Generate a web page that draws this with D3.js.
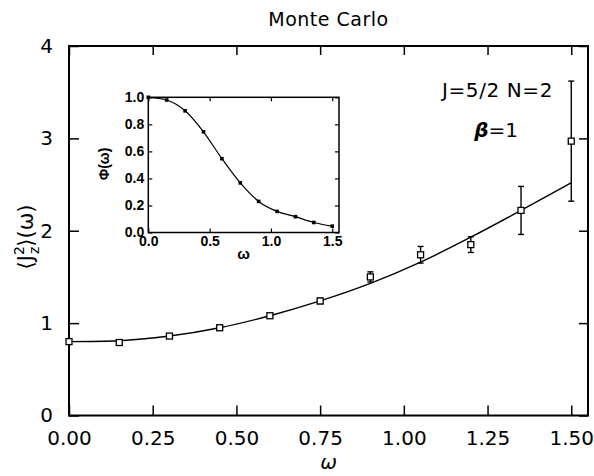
<!DOCTYPE html>
<html>
<head>
<meta charset="utf-8">
<script src="https://cdn.jsdelivr.net/npm/d3@7"></script>
<style>
  body { margin: 0; background: #fff; }
  svg { display: block; }
  text { font-family: "DejaVu Sans", sans-serif; fill: #000; }
  .inset text { font-family: "Liberation Sans", Arial, sans-serif; font-weight: bold; }
</style>
</head>
<body>
<div id="chart"></div>
<script>
/* CONSTANTS AND GLOBALS */
const width = 594,
  height = 476;

// main plot box
const box = { left: 69, right: 588, top: 46, bottom: 415.5 };
// inset box
const ibox = { left: 148.3, right: 339, top: 97.3, bottom: 232.5 };

/* DATA */
const omega = [0, 0.15, 0.3, 0.45, 0.6, 0.75, 0.9, 1.05, 1.2, 1.35, 1.5];
const mcValue = [0.80, 0.79, 0.86, 0.95, 1.08, 1.24, 1.50, 1.74, 1.85, 2.22, 2.97];
const mcError = [0.01, 0.01, 0.01, 0.01, 0.01, 0.03, 0.055, 0.09, 0.085, 0.26, 0.65];
const fitValue = [0.80, 0.81, 0.86, 0.95, 1.08, 1.24, 1.43, 1.66, 1.93, 2.22, 2.52];
const phiValue = [1.0, 0.98, 0.90, 0.745, 0.546, 0.367, 0.23, 0.156, 0.117, 0.074, 0.047];

const xTicks = [0, 0.25, 0.5, 0.75, 1.0, 1.25, 1.5];
const yTicks = [0, 1, 2, 3, 4];
const insetXTicks = [0, 0.5, 1.0, 1.5];
const insetYTicks = [0, 0.2, 0.4, 0.6, 0.8, 1.0];

const svg = d3.select("#chart")
  .append("svg")
  .attr("width", width)
  .attr("height", height);

/* SCALES */
const xScale = d3.scaleLinear().domain([0, 1.55]).range([box.left, box.right]);
const yScale = d3.scaleLinear().domain([0, 4]).range([box.bottom, box.top]);

const ixScale = d3.scaleLinear().domain([0, 1.555]).range([ibox.left, ibox.right]);
const iyScale = d3.scaleLinear().domain([0, 1]).range([ibox.bottom, ibox.top]);

/* MAIN AXES */
function styleAxis(g, fontSize) {
  g.select(".domain").remove();
  g.selectAll(".tick line").attr("stroke", "#000").attr("stroke-width", 1.5);
  g.selectAll(".tick text").style("font-size", fontSize + "px").attr("fill", "#000");
}

svg.append("g")
  .attr("transform", `translate(0,${box.bottom})`)
  .call(d3.axisBottom(xScale).tickValues(xTicks).tickFormat(d3.format(".2f"))
    .tickSizeInner(-10).tickSizeOuter(0).tickPadding(15))
  .call(g => styleAxis(g, 20));

svg.append("g")
  .attr("transform", `translate(0,${box.top})`)
  .call(d3.axisTop(xScale).tickValues(xTicks).tickFormat("")
    .tickSizeInner(-9).tickSizeOuter(0))
  .call(g => styleAxis(g, 20));

svg.append("g")
  .attr("transform", `translate(${box.left},0)`)
  .call(d3.axisLeft(yScale).tickValues(yTicks).tickFormat(d3.format("d"))
    .tickSizeInner(-10).tickSizeOuter(0).tickPadding(16))
  .call(g => styleAxis(g, 20));

svg.append("g")
  .attr("transform", `translate(${box.right},0)`)
  .call(d3.axisRight(yScale).tickValues(yTicks).tickFormat("")
    .tickSizeInner(-9).tickSizeOuter(0))
  .call(g => styleAxis(g, 20));

svg.append("rect")
  .attr("x", box.left).attr("y", box.top)
  .attr("width", box.right - box.left).attr("height", box.bottom - box.top)
  .attr("fill", "none").attr("stroke", "#000").attr("stroke-width", 2);

/* FIT LINE */
const fitLine = d3.line()
  .x((d, i) => xScale(omega[i]))
  .y(d => yScale(d))
  .curve(d3.curveMonotoneX);

svg.append("path")
  .attr("d", fitLine(fitValue))
  .attr("fill", "none")
  .attr("stroke", "#000")
  .attr("stroke-width", 1.4);

/* MONTE CARLO POINTS */
const pts = omega.map((w, i) => ({ w, v: mcValue[i], e: mcError[i] }));
const ptG = svg.append("g").selectAll("g").data(pts).join("g");

ptG.append("line")
  .attr("x1", d => xScale(d.w)).attr("x2", d => xScale(d.w))
  .attr("y1", d => yScale(d.v + d.e)).attr("y2", d => yScale(d.v - d.e))
  .attr("stroke", "#000").attr("stroke-width", 1.4);

[1, -1].forEach(s => {
  ptG.append("line")
    .attr("x1", d => xScale(d.w) - 3).attr("x2", d => xScale(d.w) + 3)
    .attr("y1", d => yScale(d.v + s * d.e)).attr("y2", d => yScale(d.v + s * d.e))
    .attr("stroke", "#000").attr("stroke-width", 1.4);
});

ptG.append("rect")
  .attr("x", d => xScale(d.w) - 3).attr("y", d => yScale(d.v) - 3)
  .attr("width", 6).attr("height", 6)
  .attr("fill", "#fff").attr("stroke", "#000").attr("stroke-width", 1.3);

/* MAIN TEXT */
svg.append("text")
  .attr("x", (box.left + box.right) / 2).attr("y", 26)
  .attr("text-anchor", "middle")
  .style("font-size", "19px")
  .style("letter-spacing", "0.5px")
  .text("Monte Carlo");

svg.append("text")
  .attr("x", 553).attr("y", 97)
  .attr("text-anchor", "end")
  .style("font-size", "20px")
  .style("letter-spacing", "0.6px")
  .text("J=5/2  N=2");

const beta = svg.append("text")
  .attr("x", 518).attr("y", 137)
  .attr("text-anchor", "end")
  .style("font-size", "20px");
beta.append("tspan").style("font-style", "italic").style("font-weight", "bold").text("β");
beta.append("tspan").text("=1");

svg.append("text")
  .attr("x", (box.left + box.right) / 2).attr("y", 469)
  .attr("text-anchor", "middle")
  .style("font-size", "20px")
  .style("font-style", "italic")
  .text("ω");

const ylab = svg.append("text")
  .attr("transform", "translate(33,237) rotate(-90)")
  .attr("text-anchor", "middle")
  .style("font-size", "21px");
ylab.append("tspan").text("⟨J");
ylab.append("tspan").attr("dy", -9).style("font-size", "14px").text("2");
ylab.append("tspan").attr("dx", -8).attr("dy", 15).style("font-size", "14px").text("z");
ylab.append("tspan").attr("dy", -6).text("⟩(ω)");

/* INSET */
const inset = svg.append("g").attr("class", "inset");

inset.append("rect")
  .attr("x", ibox.left).attr("y", ibox.top)
  .attr("width", ibox.right - ibox.left).attr("height", ibox.bottom - ibox.top)
  .attr("fill", "#fff");

inset.append("g")
  .attr("transform", `translate(0,${ibox.bottom})`)
  .call(d3.axisBottom(ixScale).tickValues(insetXTicks).tickFormat(d3.format(".1f"))
    .tickSizeInner(-4).tickSizeOuter(0).tickPadding(4))
  .call(g => styleAxis(g, 14));

inset.append("g")
  .attr("transform", `translate(0,${ibox.top})`)
  .call(d3.axisTop(ixScale).tickValues(insetXTicks).tickFormat("")
    .tickSizeInner(-4).tickSizeOuter(0))
  .call(g => styleAxis(g, 14));

inset.append("g")
  .attr("transform", `translate(${ibox.left},0)`)
  .call(d3.axisLeft(iyScale).tickValues(insetYTicks).tickFormat(d3.format(".1f"))
    .tickSizeInner(-4).tickSizeOuter(0).tickPadding(4))
  .call(g => styleAxis(g, 14));

inset.append("g")
  .attr("transform", `translate(${ibox.right},0)`)
  .call(d3.axisRight(iyScale).tickValues(insetYTicks).tickFormat("")
    .tickSizeInner(-4).tickSizeOuter(0))
  .call(g => styleAxis(g, 14));

inset.selectAll(".tick line").attr("stroke-width", 1.2);

inset.append("rect")
  .attr("x", ibox.left).attr("y", ibox.top)
  .attr("width", ibox.right - ibox.left).attr("height", ibox.bottom - ibox.top)
  .attr("fill", "none").attr("stroke", "#000").attr("stroke-width", 1.5);

const phiLine = d3.line()
  .x((d, i) => ixScale(omega[i]))
  .y(d => iyScale(d))
  .curve(d3.curveMonotoneX);

inset.append("path")
  .attr("d", phiLine(phiValue))
  .attr("fill", "none").attr("stroke", "#000").attr("stroke-width", 1.2);

inset.selectAll(".phi")
  .data(phiValue)
  .join("rect")
  .attr("class", "phi")
  .attr("x", (d, i) => ixScale(omega[i]) - 1.8)
  .attr("y", d => iyScale(d) - 1.8)
  .attr("width", 3.6).attr("height", 3.6)
  .attr("fill", "#000");

inset.append("text")
  .attr("x", (ibox.left + ibox.right) / 2).attr("y", 259)
  .attr("text-anchor", "middle")
  .style("font-size", "15px")
  .text("ω");

inset.append("text")
  .attr("transform", "translate(109,164) rotate(-90)")
  .attr("text-anchor", "middle")
  .style("font-size", "14px")
  .text("Φ(ω)");
</script>
</body>
</html>
